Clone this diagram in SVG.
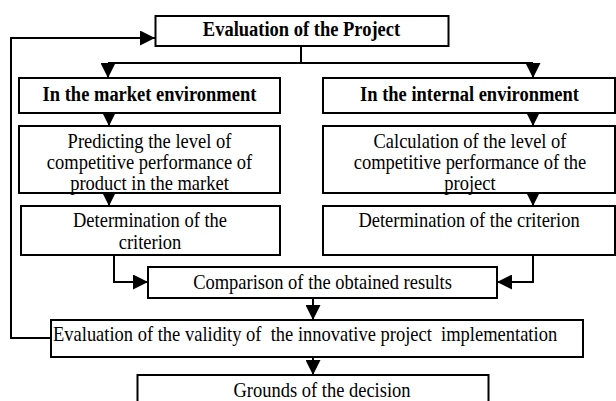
<svg xmlns="http://www.w3.org/2000/svg" width="616" height="401" viewBox="0 0 616 401">
  <style>
    .box { fill: #fff; stroke: #000; stroke-width: 2; }
    .t { font-family: "Liberation Serif", "Times New Roman", serif; font-size: 20px; fill: #000; text-anchor: middle; }
    .b { font-weight: bold; }
    .wire { fill: none; stroke: #000; stroke-width: 2; }
  </style>
  <defs>
    <marker id="arrow" markerUnits="userSpaceOnUse" markerWidth="16" markerHeight="15" refX="15" refY="7.5" orient="auto">
      <path d="M0,0 L15,7.5 L0,15 z" fill="#000"/>
    </marker>
  </defs>

  <rect width="616" height="401" fill="#fff"/>

  <!-- connectors -->
  <g id="connectors">
    <!-- fan-out from the top box -->
    <path class="wire" d="M301,46 V63"/>
    <path class="wire" d="M108,63 H533"/>
    <path class="wire" d="M108,63 V78" marker-end="url(#arrow)"/>
    <path class="wire" d="M533,63 V78" marker-end="url(#arrow)"/>
    <!-- left column -->
    <path class="wire" d="M109,113 V126" marker-end="url(#arrow)"/>
    <path class="wire" d="M109,192 V206" marker-end="url(#arrow)"/>
    <!-- right column -->
    <path class="wire" d="M533,113 V126" marker-end="url(#arrow)"/>
    <path class="wire" d="M533,191 V206" marker-end="url(#arrow)"/>
    <!-- into the comparison -->
    <path class="wire" d="M114,255 V282 H148" marker-end="url(#arrow)"/>
    <path class="wire" d="M533,255 V282 H497" marker-end="url(#arrow)"/>
    <!-- downwards -->
    <path class="wire" d="M313,298 V320" marker-end="url(#arrow)"/>
    <path class="wire" d="M313,357 V375" marker-end="url(#arrow)"/>
    <!-- feedback loop back to the top -->
    <path class="wire" d="M51,338 H11 V38 H155" marker-end="url(#arrow)"/>
  </g>

  <!-- labels use a slightly condensed serif: 20px tall, 92.5% wide -->
  <g id="n-evaluation">
    <rect class="box" x="155.5" y="16" width="293" height="30"/>
    <text class="t b" transform="translate(301.5 36) scale(.925 1)">Evaluation of the Project</text>
  </g>

  <g id="n-market">
    <rect class="box" x="19" y="78" width="261" height="35"/>
    <text class="t b" transform="translate(149.5 101) scale(.925 1)">In the market environment</text>
  </g>

  <g id="n-internal">
    <rect class="box" x="323" y="78" width="292" height="35"/>
    <text class="t b" transform="translate(469.5 101) scale(.925 1)">In the internal environment</text>
  </g>

  <g id="n-predict">
    <rect class="box" x="19" y="126" width="261" height="67"/>
    <text class="t" transform="translate(149.5 148) scale(.925 1)">Predicting the level of</text>
    <text class="t" transform="translate(149.5 169) scale(.925 1)">competitive performance of</text>
    <text class="t" transform="translate(149.5 190) scale(.925 1)">product in the market</text>
  </g>

  <g id="n-calc">
    <rect class="box" x="323" y="126" width="292" height="67"/>
    <text class="t" transform="translate(470 148) scale(.925 1)">Calculation of the level of</text>
    <text class="t" transform="translate(470 169) scale(.925 1)">competitive performance of the</text>
    <text class="t" transform="translate(470 190) scale(.925 1)">project</text>
  </g>

  <g id="n-crit-market">
    <rect class="box" x="21" y="206" width="259" height="49"/>
    <text class="t" transform="translate(150 227) scale(.925 1)">Determination of the</text>
    <text class="t" transform="translate(150 249) scale(.925 1)">criterion</text>
  </g>

  <g id="n-crit-internal">
    <rect class="box" x="323" y="206" width="292" height="49"/>
    <text class="t" transform="translate(469 227) scale(.925 1)">Determination of the criterion</text>
  </g>

  <g id="n-compare">
    <rect class="box" x="148" y="267" width="349" height="31"/>
    <text class="t" transform="translate(322.5 289) scale(.925 1)">Comparison of the obtained results</text>
  </g>

  <g id="n-validity">
    <rect class="box" x="51" y="320" width="532" height="37"/>
    <text class="t" transform="translate(53 341) scale(.925 1)" style="text-anchor:start;white-space:pre" xml:space="preserve">Evaluation of the validity of  the innovative project  implementation</text>
  </g>

  <g id="n-grounds">
    <rect class="box" x="137.5" y="375" width="351" height="40"/>
    <text class="t" transform="translate(322 397) scale(.925 1)">Grounds of the decision</text>
  </g>
</svg>
